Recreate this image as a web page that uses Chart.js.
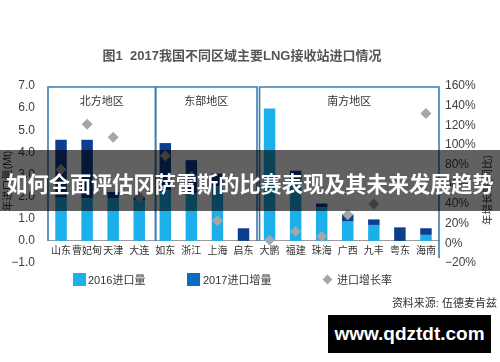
<!DOCTYPE html>
<html><head><meta charset="utf-8">
<script src="https://cdn.jsdelivr.net/npm/chart.js@4"></script>
<style>
html,body{margin:0;padding:0;background:#fff}
body{width:500px;height:362px;overflow:hidden;position:relative;font-family:"Liberation Sans","Noto Sans CJK SC",sans-serif}
#c{position:absolute;left:0;top:0}
.title{position:absolute;top:47px;left:0;width:484px;text-align:center;font-size:13px;font-weight:bold;color:#555;line-height:17px;white-space:nowrap}
.lg{position:absolute;font-size:11px;color:#333;line-height:14px;top:273px;white-space:nowrap}
.sw{position:absolute;top:273px;width:13px;height:13px}
.dm{position:absolute;left:324px;top:276px;width:7px;height:7px;background:#a6a6a6;transform:rotate(45deg)}
.src{position:absolute;right:3px;top:296px;font-size:11px;color:#333;line-height:14px;white-space:nowrap}
.band{position:absolute;left:0;top:150px;width:500px;height:61px;background:rgba(0,0,0,0.62);display:flex;align-items:center;justify-content:center;padding-top:4px;box-sizing:border-box}
.band span{color:#fff;font-weight:bold;font-size:21.2px;font-family:"Noto Sans CJK SC",sans-serif;white-space:nowrap;letter-spacing:0}
.wm{position:absolute;left:328px;top:315px;width:163px;height:38px;background:#000;color:#fff;font-weight:bold;font-size:19px;display:flex;align-items:center;justify-content:center;font-family:"Liberation Sans",sans-serif}
</style></head>
<body>
<canvas id="c" width="500" height="362"></canvas>
<div class="title">图1&nbsp;&nbsp;2017我国不同区域主要LNG接收站进口情况</div>
<div class="sw" style="left:73px;background:#1cb0ea"></div><div class="lg" style="left:88px">2016进口量</div>
<div class="sw" style="left:187px;background:#0a6dbd"></div><div class="lg" style="left:203px">2017进口增量</div>
<div class="dm"></div><div class="lg" style="left:337px">进口增长率</div>
<div class="src">资料来源: 伍德麦肯兹</div>
<div class="band"><span>如何全面评估冈萨雷斯的比赛表现及其未来发展趋势</span></div>
<div class="wm">www.qdztdt.com</div>
<script>
// ---- data ----
const categories = ['山东','曹妃甸','天津','大连','如东','浙江','上海','启东','大鹏','福建','珠海','广西','九丰','粤东','海南'];
const import2016 = [1.95, 1.93, 1.93, 1.85, 2.30, 2.15, 2.46, 0, 5.98, 2.75, 1.51, 0.87, 0.72, 0, 0.27];
const increase2017 = [2.62, 2.64, 0.28, 0.12, 2.12, 1.50, 0.58, 0.57, 0, 0.42, 0.18, 0.33, 0.25, 0.61, 0.30];
const growthRate = [0.75, 1.21, 1.08, 0.47, 0.89, 0.68, 0.23, null, 0.035, 0.12, 0.07, 0.29, 0.40, null, 1.32];
const leftTicks = {min: -1, max: 7, step: 1};
const rightTicks = {min: -0.2, max: 1.6, step: 0.2};
const regionNames = ['北方地区','东部地区','南方地区'];
const regionFrom = [0, 4, 8];
const regionTo = [3, 7, 14];
const leftTitle = '年进口量(Mt)';
const rightTitle = '年增长率(同比)';

const LIGHT = '#1cb0ea', DARK = '#0d3d8e', GRAY = '#a6a6a6', BOX = '#3a7db4';

const regionPlugin = {
  id: 'regions',
  beforeDatasetsDraw(chart) {
    const {ctx, scales: {x, y}} = chart;
    const half = (x.getPixelForValue(1) - x.getPixelForValue(0)) / 2;
    const top = chart.chartArea.top + 1;
    const y0 = y.getPixelForValue(0);
    const offs = [[0, 3.2], [3.4, 0.5], [3, 0]];
    ctx.save();
    ctx.strokeStyle = BOX;
    ctx.lineWidth = 1.6;
    regionNames.forEach((name, i) => {
      const l = x.getPixelForValue(regionFrom[i]) - half + offs[i][0];
      const r = x.getPixelForValue(regionTo[i]) + half + offs[i][1];
      ctx.beginPath();
      ctx.moveTo(l, y0); ctx.lineTo(l, top); ctx.lineTo(r, top);
      ctx.lineTo(r, i === regionNames.length - 1 ? y0 + 17 : y0);
      ctx.stroke();
      ctx.fillStyle = '#333';
      ctx.font = '11px "Noto Sans CJK SC"';
      ctx.textAlign = 'center';
      ctx.textBaseline = 'middle';
      ctx.fillText(name, (l + r) / 2, 101);
    });
    ctx.restore();
  },
  afterDraw(chart) {
    const {ctx} = chart;
    ctx.save();
    ctx.fillStyle = '#333';
    ctx.font = '10.5px "Liberation Sans","Noto Sans CJK SC"';
    ctx.textAlign = 'center';
    ctx.textBaseline = 'middle';
    ctx.translate(8, 181); ctx.rotate(-Math.PI / 2); ctx.fillText(leftTitle, 0, 0);
    ctx.restore();
    ctx.save();
    ctx.fillStyle = '#333';
    ctx.font = '10.5px "Liberation Sans","Noto Sans CJK SC"';
    ctx.textAlign = 'center';
    ctx.textBaseline = 'middle';
    ctx.translate(488, 190); ctx.rotate(-Math.PI / 2); ctx.fillText(rightTitle, 0, 0);
    ctx.restore();
  }
};

new Chart(document.getElementById('c'), {
  data: {
    labels: categories,
    datasets: [
      {type: 'line', label: '进口增长率', data: growthRate, yAxisID: 'y2', showLine: false,
       pointStyle: 'rectRot', pointRadius: 5.5, pointBackgroundColor: GRAY, pointBorderWidth: 0, pointBorderColor: GRAY, order: 0},
      {type: 'bar', label: '2016进口量', data: import2016, yAxisID: 'y', backgroundColor: LIGHT, stack: 's', order: 1,
       categoryPercentage: 1, barPercentage: 0.44},
      {type: 'bar', label: '2017进口增量', data: increase2017, yAxisID: 'y', backgroundColor: DARK, stack: 's', order: 1,
       categoryPercentage: 1, barPercentage: 0.44}
    ]
  },
  options: {
    responsive: false,
    animation: false,
    devicePixelRatio: 1,
    layout: {padding: {top: 86, bottom: 99, left: 0, right: 0}},
    plugins: {legend: {display: false}, tooltip: {enabled: false}},
    scales: {
      x: {
        stacked: true,
        position: {y: 0},
        grid: {display: false, drawTicks: false},
        border: {display: true, color: '#9a9a9a', width: 1},
        ticks: {autoSkip: false, maxRotation: 0, minRotation: 0, padding: 3, color: '#333',
                font: {family: '"Noto Sans CJK SC"', size: 10}}
      },
      y: {
        stacked: true,
        position: 'left',
        min: leftTicks.min, max: leftTicks.max,
        grid: {display: false, drawTicks: false},
        border: {display: false},
        afterFit(s) { s.width = 48; },
        ticks: {stepSize: leftTicks.step, padding: 13, color: '#404040',
                font: {family: '"Liberation Sans"', size: 12},
                callback: v => (v < 0 ? '\u2212' : '') + Math.abs(v).toFixed(1)}
      },
      y2: {
        position: 'right',
        min: rightTicks.min, max: rightTicks.max,
        grid: {display: false, drawTicks: false},
        border: {display: false},
        afterFit(s) { s.width = 61; },
        ticks: {stepSize: rightTicks.step, padding: 6, color: '#404040',
                font: {family: '"Liberation Sans"', size: 12},
                callback: v => { const p = Math.round(v * 100); return (p < 0 ? '\u2212' : '') + Math.abs(p) + '%'; }}
      }
    }
  },
  plugins: [regionPlugin]
});
</script>
</body></html>
